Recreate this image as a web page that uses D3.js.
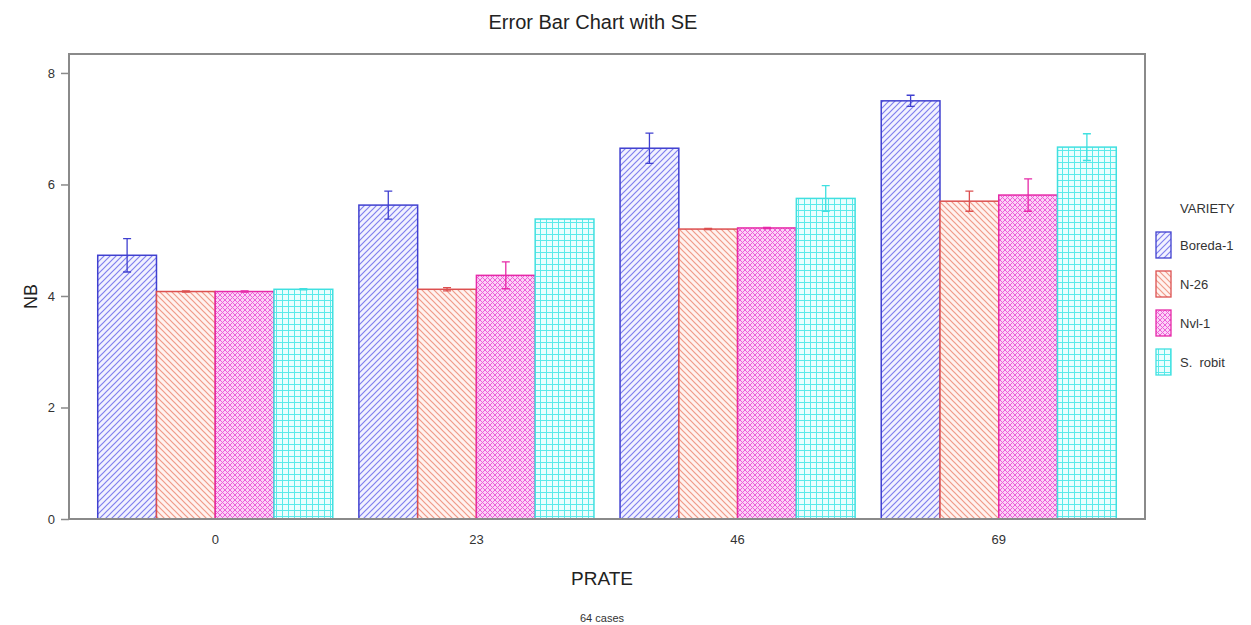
<!DOCTYPE html>
<html>
<head>
<meta charset="utf-8">
<script src="https://cdn.jsdelivr.net/npm/d3@7"></script>
<style>
  body { margin: 0; background: #fff; }
  text { font-family: "Liberation Sans", Arial, sans-serif; }
</style>
</head>
<body>
<div class="canvas"></div>
<script>
// data
const prates = ['0', '23', '46', '69']
const varieties = ['Boreda-1', 'N-26', 'Nvl-1', 'S.  robit']
const boreda = [4.73, 5.63, 6.65, 7.50]
const n26 = [4.08, 4.12, 5.20, 5.70]
const nvl = [4.08, 4.37, 5.22, 5.81]
const robit = [4.12, 5.38, 5.75, 6.67]
const boredaSE = [0.30, 0.25, 0.27, 0.10]
const n26SE = [0.01, 0.03, 0.01, 0.18]
const nvlSE = [0.01, 0.24, 0.01, 0.29]
const robitSE = [0.01, 0.00, 0.23, 0.24]
const yTicks = [0, 2, 4, 6, 8]

const means = [boreda, n26, nvl, robit]
const ses = [boredaSE, n26SE, nvlSE, robitSE]

const svgWidth = 1251
const svgHeight = 625
const frame = {left: 69, right: 1145, top: 54, bottom: 519}

// colours per variety: hatch line, hatch background, bar edge
const lineCol = ['#8080ee', '#f09a88', '#ec60d8', '#5aeaea']
const backCol = ['#f2f2ff', '#fff2ef', '#fcd2f6', '#eafefe']
const edgeCol = ['#4040d0', '#dc5050', '#e62aa8', '#40e0e0']

const svg = d3.select('.canvas')
    .append('svg')
    .attr('width', svgWidth)
    .attr('height', svgHeight)

// hatch patterns
const defs = svg.append('defs')
const pat = (id, size, bg, draw) => {
    const p = defs.append('pattern')
        .attr('id', id)
        .attr('patternUnits', 'userSpaceOnUse')
        .attr('width', size).attr('height', size)
    p.append('rect').attr('width', size).attr('height', size).attr('fill', bg)
    draw(p)
}
pat('p0', 6, backCol[0], p => {
    p.append('path').attr('d', 'M-1,1 L1,-1 M0,6 L6,0 M5,7 L7,5')
        .attr('stroke', lineCol[0]).attr('stroke-width', 1.2)
})
pat('p1', 6, backCol[1], p => {
    p.append('path').attr('d', 'M-1,5 L1,7 M0,0 L6,6 M5,-1 L7,1')
        .attr('stroke', lineCol[1]).attr('stroke-width', 1.2)
})
pat('p2', 5, backCol[2], p => {
    p.append('path').attr('d', 'M0,0 L5,5 M0,5 L5,0')
        .attr('stroke', lineCol[2]).attr('stroke-width', 1)
})
pat('p3', 6, backCol[3], p => {
    p.append('path').attr('d', 'M0,0.5 L6,0.5 M0.5,0 L0.5,6')
        .attr('stroke', lineCol[3]).attr('stroke-width', 1)
})

// scales
const x = d3.scaleBand()
    .domain(prates)
    .range([frame.left, frame.right])
    .paddingInner(0.1)
    .paddingOuter(0.11)

const xs = d3.scaleBand()
    .domain(d3.range(varieties.length))
    .range([0, x.bandwidth()])

const y = d3.scaleLinear()
    .domain([0, 8.34])
    .range([frame.bottom, frame.top])

// title
svg.append('text')
    .attr('x', 593).attr('y', 29)
    .attr('text-anchor', 'middle')
    .attr('font-size', 20)
    .attr('font-family', '"Liberation Sans Narrow", "Liberation Sans", Arial, sans-serif')
    .attr('fill', '#222')
    .text('Error Bar Chart with SE')

// bars
const graph = svg.append('g')
prates.forEach((p, i) => {
    varieties.forEach((v, j) => {
        const bx = x(p) + xs(j)
        graph.append('rect')
            .attr('x', bx)
            .attr('y', y(means[j][i]))
            .attr('width', xs.bandwidth())
            .attr('height', y(0) - y(means[j][i]))
            .attr('fill', `url(#p${j})`)
            .attr('stroke', edgeCol[j])
            .attr('stroke-width', 1.5)

        const se = ses[j][i]
        if (se > 0) {
            const cx = bx + xs.bandwidth() / 2
            const top = y(means[j][i] + se)
            const bot = y(means[j][i] - se)
            graph.append('path')
                .attr('d', `M${cx},${top} V${bot} M${cx - 4},${top} H${cx + 4} M${cx - 4},${bot} H${cx + 4}`)
                .attr('stroke', edgeCol[j])
                .attr('stroke-width', 1.3)
                .attr('fill', 'none')
        }
    })
})

// frame
svg.append('rect')
    .attr('x', frame.left).attr('y', frame.top)
    .attr('width', frame.right - frame.left)
    .attr('height', frame.bottom - frame.top)
    .attr('fill', 'none')
    .attr('stroke', '#8a8a8a')
    .attr('stroke-width', 2)

// axes
const yAxis = d3.axisLeft(y).tickValues(yTicks).tickSize(8).tickPadding(6)
const yAxisGroup = svg.append('g')
    .attr('transform', `translate(${frame.left},0)`)
    .call(yAxis)
yAxisGroup.select('.domain').remove()
yAxisGroup.selectAll('line').attr('stroke', '#8a8a8a').attr('stroke-width', 1.5)
yAxisGroup.selectAll('text')
    .attr('font-size', 13)
    .attr('font-family', '"Liberation Sans", Arial, sans-serif')
    .attr('fill', '#333')

const xAxis = d3.axisBottom(x).tickSize(0).tickPadding(16)
const xAxisGroup = svg.append('g')
    .attr('transform', `translate(0,${frame.bottom})`)
    .call(xAxis)
xAxisGroup.select('.domain').remove()
xAxisGroup.selectAll('text')
    .attr('font-size', 13)
    .attr('font-family', '"Liberation Sans", Arial, sans-serif')
    .attr('fill', '#333')

// axis titles
svg.append('text')
    .attr('transform', `translate(37,${(frame.top + frame.bottom) / 2 + 10}) rotate(-90)`)
    .attr('text-anchor', 'middle')
    .attr('font-size', 18)
    .attr('fill', '#222')
    .text('NB')

svg.append('text')
    .attr('x', 602).attr('y', 585)
    .attr('text-anchor', 'middle')
    .attr('font-size', 19)
    .attr('fill', '#222')
    .text('PRATE')

svg.append('text')
    .attr('x', 602).attr('y', 622)
    .attr('text-anchor', 'middle')
    .attr('font-size', 11)
    .attr('fill', '#333')
    .text('64 cases')

// legend
const legend = svg.append('g')
legend.append('text')
    .attr('x', 1180).attr('y', 213)
    .attr('font-size', 13)
    .attr('fill', '#333')
    .text('VARIETY')

varieties.forEach((v, j) => {
    const ly = 232 + j * 39
    legend.append('rect')
        .attr('x', 1156).attr('y', ly)
        .attr('width', 15).attr('height', 26)
        .attr('fill', `url(#p${j})`)
        .attr('stroke', edgeCol[j])
        .attr('stroke-width', 1.3)
    legend.append('text')
        .attr('x', 1180).attr('y', ly + 18)
        .attr('font-size', 13)
        .attr('fill', '#333')
        .style('white-space', 'pre')
        .text(v)
})
</script>
</body>
</html>
